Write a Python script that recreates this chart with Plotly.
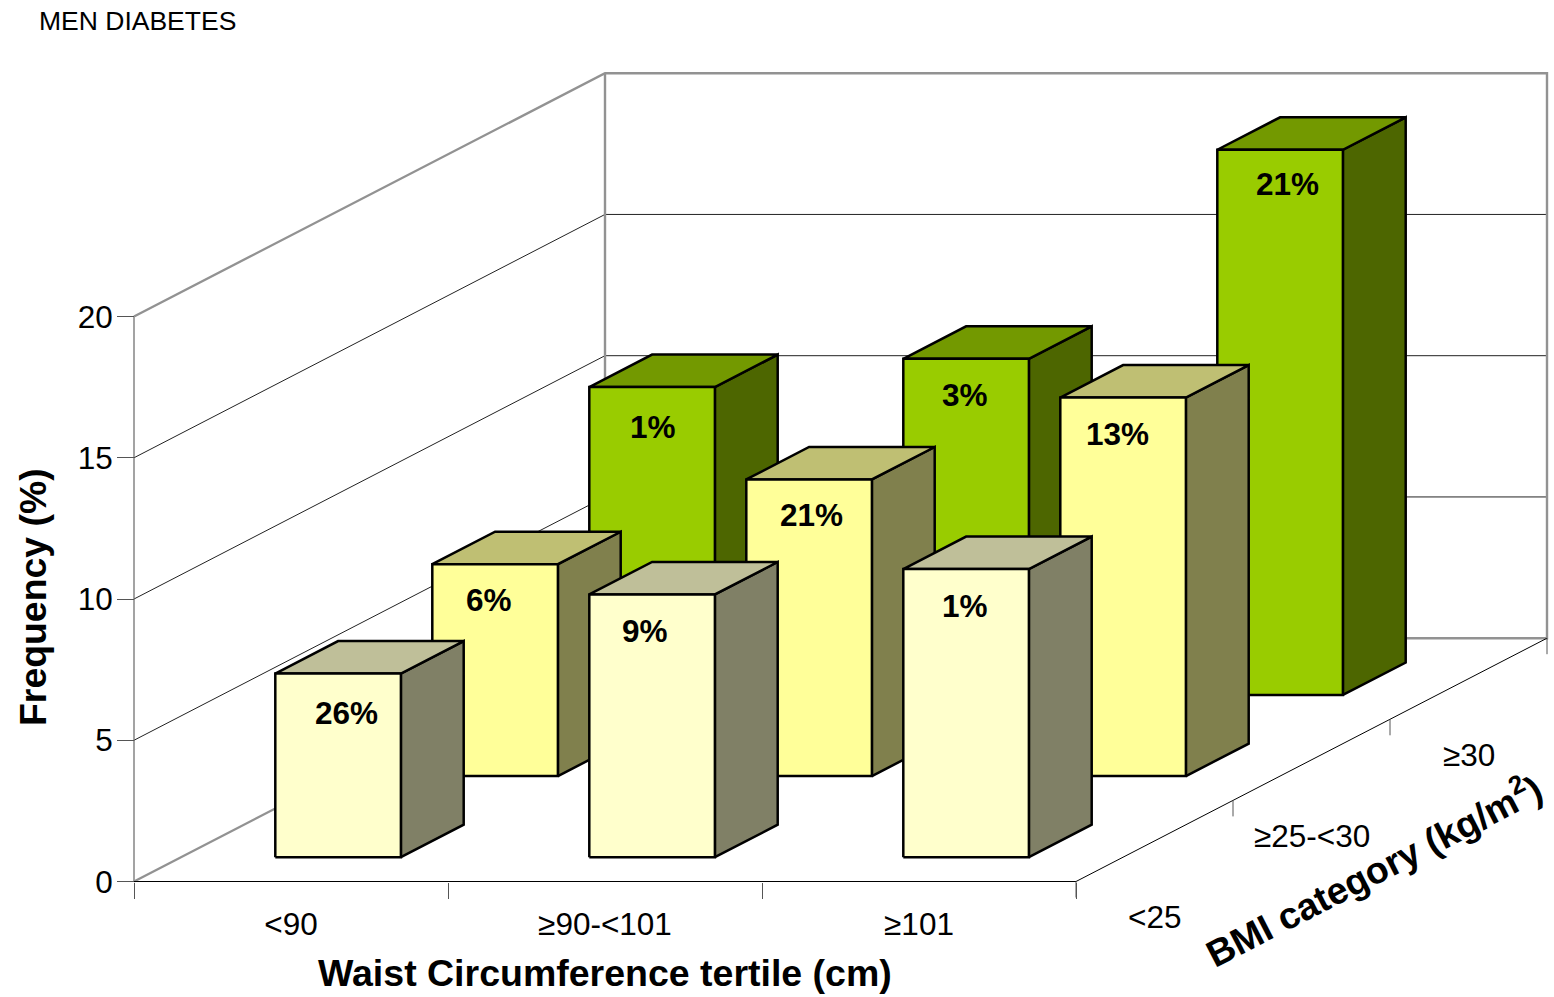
import plotly.graph_objects as go

# ---- data ----
waist_categories = ["<90", "≥90-<101", "≥101"]
bmi_categories = ["<25", "≥25-<30", "≥30"]
freq_bmi_lt25 = [6.5, 9.3, 10.2]
freq_bmi_25_30 = [7.5, 10.5, 13.4]
freq_bmi_ge30 = [10.9, 11.9, 19.3]
labels_bmi_lt25 = ["26%", "9%", "1%"]
labels_bmi_25_30 = ["6%", "21%", "13%"]
labels_bmi_ge30 = ["1%", "3%", "21%"]
y_ticks = [0, 5, 10, 15, 20]

# ---- geometry of the oblique projection ----
W, H = 1554, 997
X0, Y0 = 134, 881.5              # origin in figure pixels
PX_X, PX_Y = 314.0, 28.25        # px per category, px per percentage point
DEPTH_PX_X, DEPTH_PX_Y = 157.0, 81.1  # px per BMI row
DX, DY = DEPTH_PX_X / PX_X, DEPTH_PX_Y / PX_Y
BAR_W, BAR_D, GAP_D = 0.4, 0.4, 0.3
YMAX = 20
NX, ND = len(waist_categories), len(bmi_categories)

GRAY = "#929292"
rows = [
    (freq_bmi_ge30, labels_bmi_ge30, 2, ("#99CC00", "#739900", "#4D6600"), [1, -1, 7], [40, 36, 34]),
    (freq_bmi_25_30, labels_bmi_25_30, 1, ("#FFFF99", "#BFBF73", "#80804D"), [-6, 2, -6], [36, 36, 36]),
    (freq_bmi_lt25, labels_bmi_lt25, 0, ("#FFFFCC", "#BFBF99", "#808066"), [8, -7, -1], [39, 37, 37]),
]


def proj(x, y, d):
    return x + d * DX, y + d * DY


fig = go.Figure()


def line(points, color, width):
    xs, ys = zip(*[proj(*p) for p in points])
    fig.add_trace(go.Scatter(x=xs, y=ys, mode="lines", line=dict(color=color, width=width),
                             hoverinfo="skip", showlegend=False, cliponaxis=False))


def face(points, color):
    xs, ys = zip(*[proj(*p) for p in points + points[:1]])
    fig.add_trace(go.Scatter(x=xs, y=ys, mode="lines", fill="toself", fillcolor=color,
                             line=dict(color="black", width=2.5), hoverinfo="skip",
                             showlegend=False, cliponaxis=False))


# walls and grid
for v in y_ticks[1:-1]:
    line([(0, v, 0), (0, v, ND), (NX, v, ND)], "#222222", 1)
line([(0, 0, 0), (0, YMAX, 0)], "#666666", 1.2)
line([(0, YMAX, 0), (0, YMAX, ND), (NX, YMAX, ND), (NX, 0, ND), (0, 0, ND), (0, YMAX, ND)], GRAY, 2.4)
line([(0, 0, 0), (0, 0, ND)], GRAY, 2.4)
line([(0, 0, 0), (NX, 0, 0), (NX, 0, ND)], "black", 1)
TICK = 16 / PX_Y
for d in range(ND + 1):
    line([(NX, 0, d), (NX, -TICK, d)], "#555555", 1)

# bars, back row first
annotations = []
for values, texts, d, (front, top, side), nudge_x, nudge_y in rows:
    for i, v in enumerate(values):
        x0 = i + (1 - BAR_W) / 2
        x1 = x0 + BAR_W
        d0 = d + GAP_D
        d1 = d0 + BAR_D
        face([(x1, 0, d0), (x1, 0, d1), (x1, v, d1), (x1, v, d0)], side)
        face([(x0, v, d0), (x1, v, d0), (x1, v, d1), (x0, v, d1)], top)
        face([(x0, 0, d0), (x1, 0, d0), (x1, v, d0), (x0, v, d0)], front)
        ax, ay = proj((x0 + x1) / 2, v, d0)
        annotations.append(dict(x=ax, y=ay, xref="x", yref="y", text=texts[i], showarrow=False,
                                xanchor="center", yanchor="middle",
                                xshift=nudge_x[i], yshift=-nudge_y[i],
                                font=dict(family="Liberation Sans", size=31.5, color="black", weight="bold")))

# depth axis labels and titles
for d, name in enumerate(bmi_categories):
    lx, ly = proj(NX, 0, d + 0.5)
    annotations.append(dict(x=lx, y=ly, xref="x", yref="y", text=name, showarrow=False,
                            xanchor="center", yanchor="middle", xshift=0, yshift=-76,
                            font=dict(family="Liberation Sans", size=31.5, color="black")))


def page(text, px, py, size, bold=True, angle=0, anchor="center"):
    annotations.append(dict(x=px / W, y=1 - py / H, xref="paper", yref="paper", text=text,
                            showarrow=False, xanchor=anchor, yanchor="middle", textangle=angle,
                            font=dict(family="Liberation Sans", size=size, color="black",
                                      weight="bold" if bold else "normal")))


page("MEN DIABETES", 37, 21, 26.5, bold=False, anchor="left")
page("Waist Circumference tertile (cm)", 604.5, 973, 37.5)
page("Frequency (%)", 33, 597, 37.4, angle=-90)
page("BMI category (kg/m<sup>2</sup>)", 1373, 869, 37.4, angle=-27.3)

fig.update_layout(
    width=W, height=H, margin=dict(l=0, r=0, t=0, b=0), autosize=False,
    paper_bgcolor="white", plot_bgcolor="white", showlegend=False,
    annotations=annotations,
    xaxis=dict(
        range=[-X0 / PX_X, (W - X0) / PX_X], domain=[0, 1], anchor="free", position=(H - Y0) / H,
        showgrid=False, zeroline=False, showline=False,
        tickmode="array", tickvals=[i + 0.5 for i in range(NX)], ticktext=waist_categories,
        ticks="", ticklabelstandoff=21,
        tickfont=dict(family="Liberation Sans", size=31.5, color="black"),
        minor=dict(tickmode="array", tickvals=list(range(NX + 1)), ticks="outside", ticklen=16,
                   tickwidth=1, tickcolor="#555555", showgrid=False),
    ),
    yaxis=dict(
        range=[-(H - Y0) / PX_Y, Y0 / PX_Y], domain=[0, 1], anchor="free", position=X0 / W,
        showgrid=False, zeroline=False, showline=False,
        tickmode="array", tickvals=y_ticks, ticks="outside", ticklen=17, tickwidth=1, tickcolor="#555555",
        ticklabelstandoff=-2,
        tickfont=dict(family="Liberation Sans", size=31.5, color="black"),
    ),
)
# the default page body has an 8 px margin; remove it so the figure fills the window
fig.write_html("out.html", config=dict(displayModeBar=False),
               post_script="document.body.style.margin='0';document.body.style.overflow='hidden';")
